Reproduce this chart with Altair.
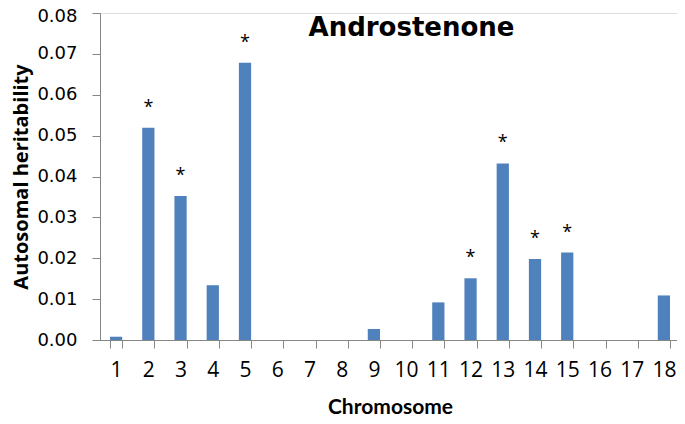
import altair as alt
import pandas as pd

chromosomes = [str(i) for i in range(1, 19)]
heritability = [0.0008, 0.0519, 0.0352, 0.0134, 0.0678, 0.0, 0.0, 0.0, 0.0027,
                0.0, 0.0092, 0.0151, 0.0432, 0.0198, 0.0214, 0.0, 0.0, 0.0109]
significant = [False, True, True, False, True, False, False, False, False,
               False, False, True, True, True, True, False, False, False]
y_ticks = [0.0, 0.01, 0.02, 0.03, 0.04, 0.05, 0.06, 0.07, 0.08]
title_text = "Androstenone"

df = pd.DataFrame({"chrom": chromosomes, "h": heritability,
                   "star": ["*" if s else "" for s in significant]})

FONT = "Open Sans"
AXIS_GRAY = "#868686"

x_enc = alt.X("chrom:N", sort=chromosomes,
              scale=alt.Scale(paddingInner=0.62, paddingOuter=0.31, range=[0, 580]),
              axis=alt.Axis(title="Chromosome", labelAngle=0, tickBand="extent",
                            labelFontSize=21, labelFont=FONT, labelColor="black",
                            labelPadding=11, tickSize=8, tickColor=AXIS_GRAY,
                            domainColor=AXIS_GRAY, titleFont="Lato", titleFontSize=21,
                            titleFontWeight="bold", titleColor="black",
                            titleY=67, titleBaseline="middle", grid=False))
y_enc = alt.Y("h:Q", scale=alt.Scale(domain=[0, 0.08], nice=False),
              axis=alt.Axis(title="Autosomal heritability", values=y_ticks, format=".2f",
                            labelFontSize=18, labelFont="DejaVu Sans", labelColor="black",
                            labelPadding=15, tickSize=8, tickColor=AXIS_GRAY,
                            labelOffset=alt.condition("datum.value >= 0.08", alt.value(3.5), alt.value(0)),
                            domainColor=AXIS_GRAY, titleFont=FONT, titleFontSize=20,
                            titleFontWeight="bold", titleColor="black",
                            titleX=-79, titleY=163.5, titleBaseline="middle",
                            titleAlign="center", titleAngle=-90, grid=False))

bars = alt.Chart(df).mark_bar(color="#4F81BD").encode(x=x_enc, y=y_enc)

stars = alt.Chart(df).mark_text(font=FONT, fontSize=18, color="black", dy=-15,
                                baseline="alphabetic").encode(
    x=alt.X("chrom:N", sort=chromosomes), y="h:Q", text="star:N")

title = alt.Chart(pd.DataFrame({"t": [title_text]})).mark_text(
    font="DejaVu Sans", fontSize=26, fontWeight="bold", color="black",
    baseline="middle", align="center").encode(
    x=alt.value(311.5), y=alt.value(15), text="t:N")

chart = alt.layer(bars, stars, title).properties(
    width=577, height=327,
    autosize=alt.AutoSizeParams(type="none"),
    padding={"left": 92, "top": 5, "right": 0, "bottom": 76},
).configure_view(stroke=None).configure(background="white")

chart.save("out.html", embed_options={"renderer": "svg", "actions": False})
